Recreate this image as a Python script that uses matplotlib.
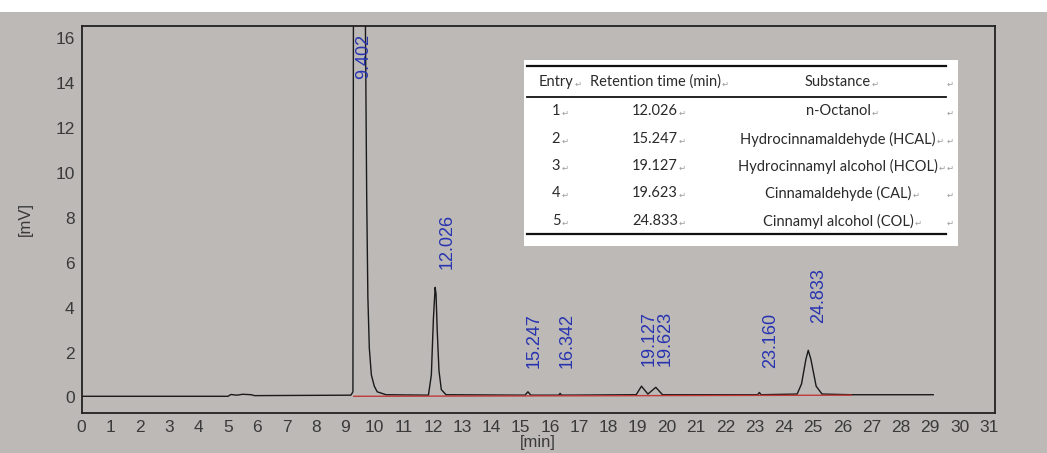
import matplotlib
matplotlib.use("Agg")
import matplotlib.pyplot as plt
from matplotlib.lines import Line2D

plt.rcParams['font.family'] = ['Liberation Sans', 'DejaVu Sans']

# chromatogram trace (time in min, signal in mV)
t = [0.0, 2.0, 5.0, 5.1, 5.3, 5.5, 5.8, 5.9, 9.2, 9.27,
     9.30, 9.45, 9.65, 9.70, 9.74, 9.78, 9.83, 9.90, 10.0, 10.1, 10.4,
     11.85, 11.95, 12.02, 12.08, 12.11, 12.15, 12.21, 12.29, 12.45,
     15.15, 15.25, 15.35, 16.30, 16.35, 16.40,
     18.95, 19.13, 19.35, 19.62, 19.85,
     21.8, 23.1, 23.16, 23.22,
     24.45, 24.60, 24.75, 24.83, 24.92, 25.10, 25.30, 26.3, 29.1]
mv = [0.05, 0.05, 0.05, 0.13, 0.10, 0.14, 0.12, 0.08, 0.10, 0.25,
      30.0, 60.0, 30.0, 16.0, 9.0, 4.5, 2.2, 1.0, 0.5, 0.25, 0.12,
      0.10, 1.0, 3.5, 4.9, 4.6, 3.0, 1.2, 0.35, 0.12,
      0.10, 0.25, 0.10, 0.10, 0.18, 0.10,
      0.12, 0.50, 0.15, 0.45, 0.12,
      0.12, 0.12, 0.22, 0.12,
      0.15, 0.6, 1.7, 2.1, 1.7, 0.5, 0.15, 0.12, 0.12]

# integration baseline (red)
base_t = [9.3, 26.3]
base_mv = [0.05, 0.10]

# peak labels
peak_rt = ["9.402", "12.026", "15.247", "16.342", "19.127", "19.623", "23.160", "24.833"]
label_x = [9.62, 12.5, 15.45, 16.6, 19.4, 19.95, 23.55, 25.2]
label_y = [14.2, 5.7, 1.3, 1.3, 1.4, 1.4, 1.3, 3.3]

# table
heads = ["Entry", "Retention time (min)", "Substance"]
entries = ["1", "2", "3", "4", "5"]
ret_times = ["12.026", "15.247", "19.127", "19.623", "24.833"]
substances = ["n-Octanol", "Hydrocinnamaldehyde (HCAL)", "Hydrocinnamyl alcohol (HCOL)",
              "Cinnamaldehyde (CAL)", "Cinnamyl alcohol (COL)"]

bg = '#bcb9b7'
fig = plt.figure(figsize=(10.47, 4.53), dpi=100)
fig.patch.set_facecolor(bg)
ax = fig.add_axes([0.078, 0.088, 0.872, 0.855])
ax.set_facecolor(bg)

ax.plot(t, mv, color='#1a1a1a', lw=1.0)
ax.plot(base_t, base_mv, color='#c03a3a', lw=1.0)

for s, x, y in zip(peak_rt, label_x, label_y):
    ax.text(x, y, s, rotation=90, color='#2733b0', fontsize=13, ha='center', va='bottom',
            family=['Liberation Sans Narrow', 'Liberation Sans'], clip_on=True)

ax.set_xlim(0, 31.2)
ax.set_ylim(-0.7, 16.55)
ax.set_xticks(range(0, 32))
ax.set_yticks(range(0, 17, 2))
ax.tick_params(length=0, labelsize=12.5, colors='#3a3a3a', pad=5)
ax.set_xlabel('[min]', fontsize=12, color='#3a3a3a', labelpad=0)
ax.set_ylabel('[mV]', fontsize=12, color='#3a3a3a', labelpad=16)
for sp in ax.spines.values():
    sp.set_color('#222222')
    sp.set_linewidth(1.3)

# white table inset, placed in figure pixel coordinates
W, H = 1047.0, 453.0
def fx(px):
    return px / W
def fy(py):
    return 1 - py / H

# white strip at the very top of the photo
fig.patches.append(plt.Rectangle((0, fy(12)), 1, 1 - fy(12), transform=fig.transFigure,
                                 facecolor='white', edgecolor='none'))
fig.patches.append(plt.Rectangle((fx(524), fy(246)), fx(958) - fx(524), fy(60) - fy(246),
                                 transform=fig.transFigure, facecolor='white', edgecolor='none'))
for py, lw in [(66, 1.6), (97, 1.3), (234, 1.6)]:
    fig.lines.append(Line2D([fx(527), fx(946)], [fy(py), fy(py)], transform=fig.transFigure,
                            color='#111111', lw=lw))

tfont = ['Lato', 'DejaVu Sans']
mark = '\u21b5'
cols = [556, 655, 838]
renderer = fig.canvas.get_renderer()

def cell(cx, py, s):
    txt = fig.text(fx(cx), fy(py), s, ha='center', va='center', fontsize=10.5,
                   color='#2a2a2a', family=tfont)
    bb = txt.get_window_extent(renderer)
    fig.text(fx(bb.x1 + 1), fy(py + 2), mark, ha='left', va='center', fontsize=6,
             color='#9a9a9a', family=tfont)

for cx, h in zip(cols, heads):
    cell(cx, 82, h)
fig.text(fx(950), fy(84), mark, ha='center', va='center', fontsize=6, color='#9a9a9a', family=tfont)

row_y = [111, 139, 166, 193, 221]
for e, rt, sub, ry in zip(entries, ret_times, substances, row_y):
    cell(cols[0], ry, e)
    cell(cols[1], ry, rt)
    cell(cols[2], ry, sub)
    fig.text(fx(950), fy(ry + 2), mark, ha='center', va='center', fontsize=6, color='#9a9a9a', family=tfont)

fig.savefig('out.png', dpi=100, facecolor=bg)
